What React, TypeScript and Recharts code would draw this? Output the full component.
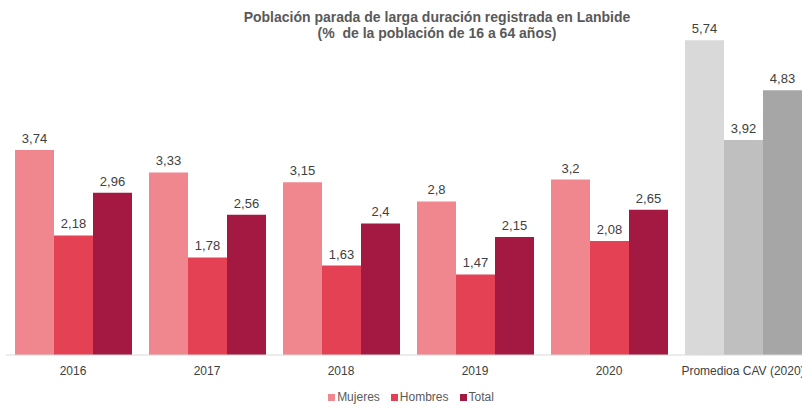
import React from 'react';
import { BarChart, Bar, XAxis, YAxis, Legend, LabelList, Cell } from 'recharts';

const categories = ['2016', '2017', '2018', '2019', '2020', 'Promedioa CAV (2020)'];
const mujeres = [3.74, 3.33, 3.15, 2.8, 3.2, 5.74];
const hombres = [2.18, 1.78, 1.63, 1.47, 2.08, 3.92];
const total = [2.96, 2.56, 2.4, 2.15, 2.65, 4.83];

const colors = {
    mujeres: '#F0878F',
    hombres: '#E44155',
    total: '#A31941'
};
const greys = {
    mujeres: '#D9D9D9',
    hombres: '#BFBFBF',
    total: '#A6A6A6'
};

const data = categories.map((name, i) => ({
    name,
    mujeres: mujeres[i],
    hombres: hombres[i],
    total: total[i]
}));

const font = "'Liberation Sans', Arial, sans-serif";
const fmt = (v: any) => String(v).replace('.', ',');

const series: { key: 'mujeres' | 'hombres' | 'total'; label: string }[] = [
    { key: 'mujeres', label: 'Mujeres' },
    { key: 'hombres', label: 'Hombres' },
    { key: 'total', label: 'Total' }
];

const LegendBox = () => (
    <div style={{ display: 'flex', justifyContent: 'center', gap: 11, fontSize: 12, color: '#595959', paddingLeft: 20 }}>
        {series.map(s => (
            <span key={s.key} style={{ display: 'flex', alignItems: 'center' }}>
                <span style={{ width: 7, height: 7, background: colors[s.key], marginRight: 2 }} />
                {s.label}
            </span>
        ))}
    </div>
);

export default function App() {
    return (
        <div style={{ position: 'absolute', left: 0, top: 0, width: 802, height: 405, overflow: 'hidden', background: '#fff', fontFamily: font }}>
            <div style={{ position: 'absolute', left: 237, width: 400, top: 9, textAlign: 'center', fontSize: 14, fontWeight: 'bold', color: '#595959', lineHeight: '16px' }}>
                Población parada de larga duración registrada en Lanbide<br />(% &nbsp;de la población de 16 a 64 años)
            </div>
            <BarChart
                width={810}
                height={405}
                data={data}
                margin={{ top: 26, right: 0, left: 6, bottom: 0 }}
                barGap={0}
                style={{ fontFamily: font }}
            >
                <YAxis hide domain={[0, 6]} />
                <XAxis
                    dataKey="name"
                    height={26}
                    tickLine={false}
                    tickMargin={5}
                    axisLine={{ stroke: '#D9D9D9' }}
                    tick={{ fill: '#404040', fontSize: 12 }}
                    interval={0}
                />
                <Legend
                    verticalAlign="bottom"
                    height={24}
                    content={() => <LegendBox />}
                    wrapperStyle={{ left: 0, width: 802, top: 390 }}
                />
                {series.map(s => (
                    <Bar key={s.key} dataKey={s.key} name={s.label} fill={colors[s.key]} barSize={39} isAnimationActive={false}>
                        {data.map((_, i) => (
                            <Cell key={`c-${i}`} fill={i === data.length - 1 ? greys[s.key] : colors[s.key]} />
                        ))}
                        <LabelList dataKey={s.key} position="top" offset={7} formatter={fmt} style={{ fill: '#404040', fontSize: 13 }} />
                    </Bar>
                ))}
            </BarChart>
        </div>
    );
}
